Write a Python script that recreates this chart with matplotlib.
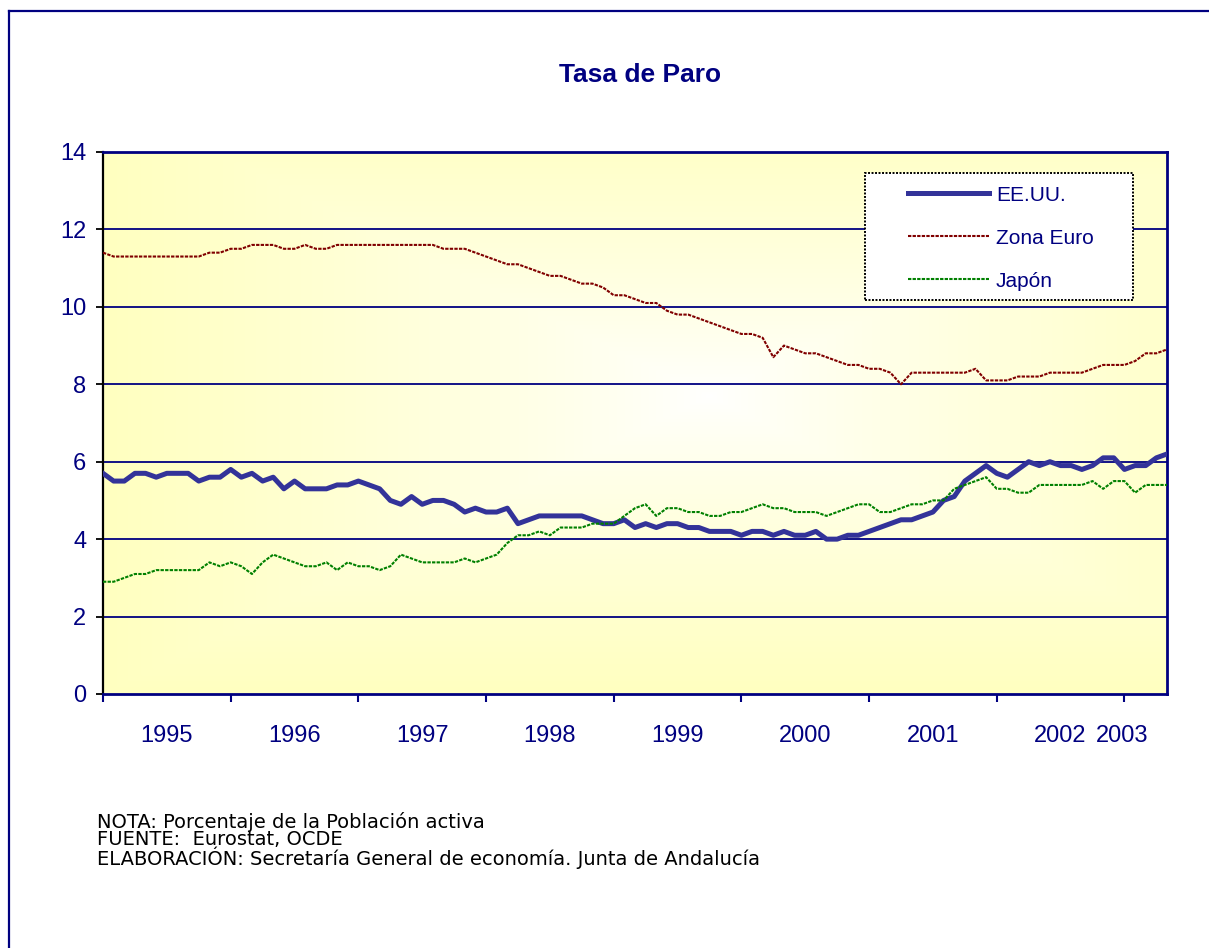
import matplotlib.pyplot as plt
import numpy as np
from matplotlib.lines import Line2D
from matplotlib.patches import Rectangle

plt.rcParams['font.family'] = ['Liberation Sans', 'DejaVu Sans']

# Tasa de paro mensual, enero 1995 - mayo 2003 (101 meses)
eeuu = [5.7, 5.5, 5.5, 5.7, 5.7, 5.6, 5.7, 5.7, 5.7, 5.5, 5.6, 5.6,
        5.8, 5.6, 5.7, 5.5, 5.6, 5.3, 5.5, 5.3, 5.3, 5.3, 5.4, 5.4,
        5.5, 5.4, 5.3, 5.0, 4.9, 5.1, 4.9, 5.0, 5.0, 4.9, 4.7, 4.8,
        4.7, 4.7, 4.8, 4.4, 4.5, 4.6, 4.6, 4.6, 4.6, 4.6, 4.5, 4.4,
        4.4, 4.5, 4.3, 4.4, 4.3, 4.4, 4.4, 4.3, 4.3, 4.2, 4.2, 4.2,
        4.1, 4.2, 4.2, 4.1, 4.2, 4.1, 4.1, 4.2, 4.0, 4.0, 4.1, 4.1,
        4.2, 4.3, 4.4, 4.5, 4.5, 4.6, 4.7, 5.0, 5.1, 5.5, 5.7, 5.9,
        5.7, 5.6, 5.8, 6.0, 5.9, 6.0, 5.9, 5.9, 5.8, 5.9, 6.1, 6.1,
        5.8, 5.9, 5.9, 6.1, 6.2]

zona_euro = [11.4, 11.3, 11.3, 11.3, 11.3, 11.3, 11.3, 11.3, 11.3, 11.3, 11.4, 11.4,
             11.5, 11.5, 11.6, 11.6, 11.6, 11.5, 11.5, 11.6, 11.5, 11.5, 11.6, 11.6,
             11.6, 11.6, 11.6, 11.6, 11.6, 11.6, 11.6, 11.6, 11.5, 11.5, 11.5, 11.4,
             11.3, 11.2, 11.1, 11.1, 11.0, 10.9, 10.8, 10.8, 10.7, 10.6, 10.6, 10.5,
             10.3, 10.3, 10.2, 10.1, 10.1, 9.9, 9.8, 9.8, 9.7, 9.6, 9.5, 9.4,
             9.3, 9.3, 9.2, 8.7, 9.0, 8.9, 8.8, 8.8, 8.7, 8.6, 8.5, 8.5,
             8.4, 8.4, 8.3, 8.0, 8.3, 8.3, 8.3, 8.3, 8.3, 8.3, 8.4, 8.1,
             8.1, 8.1, 8.2, 8.2, 8.2, 8.3, 8.3, 8.3, 8.3, 8.4, 8.5, 8.5,
             8.5, 8.6, 8.8, 8.8, 8.9]

japon = [2.9, 2.9, 3.0, 3.1, 3.1, 3.2, 3.2, 3.2, 3.2, 3.2, 3.4, 3.3,
         3.4, 3.3, 3.1, 3.4, 3.6, 3.5, 3.4, 3.3, 3.3, 3.4, 3.2, 3.4,
         3.3, 3.3, 3.2, 3.3, 3.6, 3.5, 3.4, 3.4, 3.4, 3.4, 3.5, 3.4,
         3.5, 3.6, 3.9, 4.1, 4.1, 4.2, 4.1, 4.3, 4.3, 4.3, 4.4, 4.4,
         4.4, 4.6, 4.8, 4.9, 4.6, 4.8, 4.8, 4.7, 4.7, 4.6, 4.6, 4.7,
         4.7, 4.8, 4.9, 4.8, 4.8, 4.7, 4.7, 4.7, 4.6, 4.7, 4.8, 4.9,
         4.9, 4.7, 4.7, 4.8, 4.9, 4.9, 5.0, 5.0, 5.3, 5.4, 5.5, 5.6,
         5.3, 5.3, 5.2, 5.2, 5.4, 5.4, 5.4, 5.4, 5.4, 5.5, 5.3, 5.5,
         5.5, 5.2, 5.4, 5.4, 5.4]

years = ['1995', '1996', '1997', '1998', '1999', '2000', '2001', '2002', '2003']
series_names = ['EE.UU.', 'Zona Euro', 'Japón']

navy = '#000080'
W, H = 1209, 948
fig = plt.figure(figsize=(W / 100, H / 100), dpi=100)

# plot area in pixels: x 103..1167, y 152..694
ax = fig.add_axes([103 / W, 1 - 694 / H, (1167 - 103) / W, (694 - 152) / H])

months = np.arange(len(eeuu))
ax.set_xlim(0, len(eeuu) - 1)
ax.set_ylim(0, 14)

# fondo degradado: amarillo en los bordes, blanco hacia el centro
gx, gy = np.meshgrid(np.linspace(0, 1, 300), np.linspace(0, 1, 300))
t = np.maximum(np.abs(gx - 0.57) / 0.57, np.abs(gy - 0.55) / 0.55)
t = np.clip(t, 0, 1) ** 0.8
yellow = np.array([255, 255, 192]) / 255
white = np.array([1.0, 1.0, 1.0])
img = white[None, None, :] * (1 - t[..., None]) + yellow[None, None, :] * t[..., None]
ax.imshow(img, extent=[0, 1, 0, 1], transform=ax.transAxes, origin='lower',
          aspect='auto', zorder=0)

for yv in range(2, 14, 2):
    ax.axhline(yv, color=navy, lw=1.3, zorder=1)

ax.plot(months, eeuu, color='#333399', lw=3.6, solid_joinstyle='round',
        label=series_names[0], zorder=3)
ax.plot(months, zona_euro, color='#800000', lw=1.5, linestyle=(0, (1.6, 0.6)),
        label=series_names[1], zorder=3)
ax.plot(months, japon, color='#008000', lw=1.5, linestyle=(0, (1.6, 0.6)),
        label=series_names[2], zorder=3)

# ejes
for side in ['top', 'right', 'bottom']:
    ax.spines[side].set_color(navy)
    ax.spines[side].set_linewidth(2)
ax.spines['left'].set_color('black')
ax.spines['left'].set_linewidth(1.6)

ax.set_yticks(range(0, 15, 2))
ax.tick_params(axis='y', colors='black', labelcolor=navy, labelsize=17,
               length=5, width=1.3, pad=7)

ax.set_xticks(np.arange(0, len(eeuu), 12))
ax.set_xticklabels([])
ax.tick_params(axis='x', which='major', colors=navy, length=6, width=1.5)
label_pos = [12 * i + 6 for i in range(len(years) - 1)] + [95.8]
ax.set_xticks(label_pos, minor=True)
ax.set_xticklabels(years, minor=True)
ax.tick_params(axis='x', which='minor', length=0, pad=22, labelsize=17,
               labelcolor=navy)

# leyenda con marco punteado
box = Rectangle((0.716, 0.727), 0.252, 0.234, transform=ax.transAxes,
                facecolor='white', edgecolor='black', lw=1.4,
                linestyle=(0, (1, 0.8)), zorder=4)
ax.add_patch(box)
leg = ax.legend(loc='upper left', bbox_to_anchor=(0.757, 0.938), frameon=False,
                fontsize=15, handlelength=3.85, handletextpad=0.35,
                labelspacing=1.15, borderpad=0, borderaxespad=0)
leg.set_zorder(5)
for txt in leg.get_texts():
    txt.set_color(navy)

fig.text(640 / W, 1 - 75 / H, 'Tasa de Paro', ha='center', va='center',
         fontsize=19, fontweight='bold', color=navy)

notes = ['NOTA: Porcentaje de la Población activa',
         'FUENTE:  Eurostat, OCDE',
         'ELABORACIÓN: Secretaría General de economía. Junta de Andalucía']
fig.text(97 / W, 1 - 812 / H, '\n'.join(notes), ha='left', va='top',
         fontsize=14, linespacing=0.88, color='black', family='DejaVu Sans')

# marco exterior del gráfico
fig.add_artist(Line2D([9 / W, 1.01], [1 - 11 / H, 1 - 11 / H], color=navy, lw=1.6))
fig.add_artist(Line2D([9 / W, 9 / W], [1 - 11 / H, -0.01], color=navy, lw=1.6))

fig.savefig('out.png', dpi=100)
